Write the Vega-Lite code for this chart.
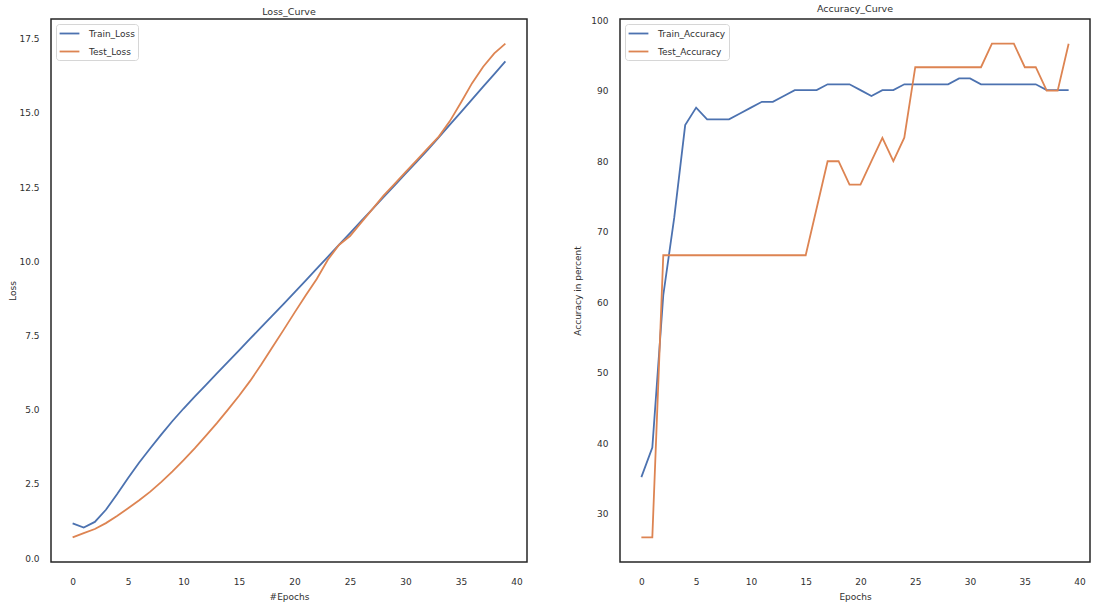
{
  "$schema": "https://vega.github.io/schema/vega-lite/v6.json",
  "padding": {"left": 8, "top": 2, "right": 5, "bottom": 5},
  "background": "white",
  "bounds": "flush",
  "spacing": 93,
  "datasets": {
    "loss": [
      {"epoch":0,"series":"Train_Loss","value":1.17},{"epoch":1,"series":"Train_Loss","value":1.03},{"epoch":2,"series":"Train_Loss","value":1.22},{"epoch":3,"series":"Train_Loss","value":1.63},{"epoch":4,"series":"Train_Loss","value":2.15},{"epoch":5,"series":"Train_Loss","value":2.7},{"epoch":6,"series":"Train_Loss","value":3.22},{"epoch":7,"series":"Train_Loss","value":3.7},{"epoch":8,"series":"Train_Loss","value":4.17},{"epoch":9,"series":"Train_Loss","value":4.62},{"epoch":10,"series":"Train_Loss","value":5.04},{"epoch":11,"series":"Train_Loss","value":5.44},{"epoch":12,"series":"Train_Loss","value":5.83},{"epoch":13,"series":"Train_Loss","value":6.22},{"epoch":14,"series":"Train_Loss","value":6.61},{"epoch":15,"series":"Train_Loss","value":7.0},{"epoch":16,"series":"Train_Loss","value":7.39},{"epoch":17,"series":"Train_Loss","value":7.78},{"epoch":18,"series":"Train_Loss","value":8.17},{"epoch":19,"series":"Train_Loss","value":8.56},{"epoch":20,"series":"Train_Loss","value":8.95},{"epoch":21,"series":"Train_Loss","value":9.35},{"epoch":22,"series":"Train_Loss","value":9.75},{"epoch":23,"series":"Train_Loss","value":10.15},{"epoch":24,"series":"Train_Loss","value":10.55},{"epoch":25,"series":"Train_Loss","value":10.95},{"epoch":26,"series":"Train_Loss","value":11.35},{"epoch":27,"series":"Train_Loss","value":11.75},{"epoch":28,"series":"Train_Loss","value":12.15},{"epoch":29,"series":"Train_Loss","value":12.55},{"epoch":30,"series":"Train_Loss","value":12.95},{"epoch":31,"series":"Train_Loss","value":13.35},{"epoch":32,"series":"Train_Loss","value":13.75},{"epoch":33,"series":"Train_Loss","value":14.17},{"epoch":34,"series":"Train_Loss","value":14.6},{"epoch":35,"series":"Train_Loss","value":15.02},{"epoch":36,"series":"Train_Loss","value":15.45},{"epoch":37,"series":"Train_Loss","value":15.88},{"epoch":38,"series":"Train_Loss","value":16.3},{"epoch":39,"series":"Train_Loss","value":16.73},
      {"epoch":0,"series":"Test_Loss","value":0.7},{"epoch":1,"series":"Test_Loss","value":0.84},{"epoch":2,"series":"Test_Loss","value":0.98},{"epoch":3,"series":"Test_Loss","value":1.18},{"epoch":4,"series":"Test_Loss","value":1.42},{"epoch":5,"series":"Test_Loss","value":1.68},{"epoch":6,"series":"Test_Loss","value":1.95},{"epoch":7,"series":"Test_Loss","value":2.24},{"epoch":8,"series":"Test_Loss","value":2.57},{"epoch":9,"series":"Test_Loss","value":2.92},{"epoch":10,"series":"Test_Loss","value":3.3},{"epoch":11,"series":"Test_Loss","value":3.7},{"epoch":12,"series":"Test_Loss","value":4.12},{"epoch":13,"series":"Test_Loss","value":4.55},{"epoch":14,"series":"Test_Loss","value":5.0},{"epoch":15,"series":"Test_Loss","value":5.47},{"epoch":16,"series":"Test_Loss","value":5.97},{"epoch":17,"series":"Test_Loss","value":6.52},{"epoch":18,"series":"Test_Loss","value":7.1},{"epoch":19,"series":"Test_Loss","value":7.68},{"epoch":20,"series":"Test_Loss","value":8.27},{"epoch":21,"series":"Test_Loss","value":8.85},{"epoch":22,"series":"Test_Loss","value":9.4},{"epoch":23,"series":"Test_Loss","value":10.05},{"epoch":24,"series":"Test_Loss","value":10.55},{"epoch":25,"series":"Test_Loss","value":10.85},{"epoch":26,"series":"Test_Loss","value":11.3},{"epoch":27,"series":"Test_Loss","value":11.75},{"epoch":28,"series":"Test_Loss","value":12.2},{"epoch":29,"series":"Test_Loss","value":12.6},{"epoch":30,"series":"Test_Loss","value":13.0},{"epoch":31,"series":"Test_Loss","value":13.4},{"epoch":32,"series":"Test_Loss","value":13.8},{"epoch":33,"series":"Test_Loss","value":14.2},{"epoch":34,"series":"Test_Loss","value":14.72},{"epoch":35,"series":"Test_Loss","value":15.35},{"epoch":36,"series":"Test_Loss","value":16.0},{"epoch":37,"series":"Test_Loss","value":16.55},{"epoch":38,"series":"Test_Loss","value":17.0},{"epoch":39,"series":"Test_Loss","value":17.33}
    ],
    "acc": [
      {"epoch":0,"series":"Train_Accuracy","value":35.2},{"epoch":1,"series":"Train_Accuracy","value":39.4},{"epoch":2,"series":"Train_Accuracy","value":61.0},{"epoch":3,"series":"Train_Accuracy","value":72.0},{"epoch":4,"series":"Train_Accuracy","value":85.12},{"epoch":5,"series":"Train_Accuracy","value":87.6},{"epoch":6,"series":"Train_Accuracy","value":85.95},{"epoch":7,"series":"Train_Accuracy","value":85.95},{"epoch":8,"series":"Train_Accuracy","value":85.95},{"epoch":9,"series":"Train_Accuracy","value":86.78},{"epoch":10,"series":"Train_Accuracy","value":87.6},{"epoch":11,"series":"Train_Accuracy","value":88.43},{"epoch":12,"series":"Train_Accuracy","value":88.43},{"epoch":13,"series":"Train_Accuracy","value":89.26},{"epoch":14,"series":"Train_Accuracy","value":90.08},{"epoch":15,"series":"Train_Accuracy","value":90.08},{"epoch":16,"series":"Train_Accuracy","value":90.08},{"epoch":17,"series":"Train_Accuracy","value":90.91},{"epoch":18,"series":"Train_Accuracy","value":90.91},{"epoch":19,"series":"Train_Accuracy","value":90.91},{"epoch":20,"series":"Train_Accuracy","value":90.08},{"epoch":21,"series":"Train_Accuracy","value":89.26},{"epoch":22,"series":"Train_Accuracy","value":90.08},{"epoch":23,"series":"Train_Accuracy","value":90.08},{"epoch":24,"series":"Train_Accuracy","value":90.91},{"epoch":25,"series":"Train_Accuracy","value":90.91},{"epoch":26,"series":"Train_Accuracy","value":90.91},{"epoch":27,"series":"Train_Accuracy","value":90.91},{"epoch":28,"series":"Train_Accuracy","value":90.91},{"epoch":29,"series":"Train_Accuracy","value":91.74},{"epoch":30,"series":"Train_Accuracy","value":91.74},{"epoch":31,"series":"Train_Accuracy","value":90.91},{"epoch":32,"series":"Train_Accuracy","value":90.91},{"epoch":33,"series":"Train_Accuracy","value":90.91},{"epoch":34,"series":"Train_Accuracy","value":90.91},{"epoch":35,"series":"Train_Accuracy","value":90.91},{"epoch":36,"series":"Train_Accuracy","value":90.91},{"epoch":37,"series":"Train_Accuracy","value":90.08},{"epoch":38,"series":"Train_Accuracy","value":90.08},{"epoch":39,"series":"Train_Accuracy","value":90.08},
      {"epoch":0,"series":"Test_Accuracy","value":26.67},{"epoch":1,"series":"Test_Accuracy","value":26.67},{"epoch":2,"series":"Test_Accuracy","value":66.67},{"epoch":3,"series":"Test_Accuracy","value":66.67},{"epoch":4,"series":"Test_Accuracy","value":66.67},{"epoch":5,"series":"Test_Accuracy","value":66.67},{"epoch":6,"series":"Test_Accuracy","value":66.67},{"epoch":7,"series":"Test_Accuracy","value":66.67},{"epoch":8,"series":"Test_Accuracy","value":66.67},{"epoch":9,"series":"Test_Accuracy","value":66.67},{"epoch":10,"series":"Test_Accuracy","value":66.67},{"epoch":11,"series":"Test_Accuracy","value":66.67},{"epoch":12,"series":"Test_Accuracy","value":66.67},{"epoch":13,"series":"Test_Accuracy","value":66.67},{"epoch":14,"series":"Test_Accuracy","value":66.67},{"epoch":15,"series":"Test_Accuracy","value":66.67},{"epoch":16,"series":"Test_Accuracy","value":73.33},{"epoch":17,"series":"Test_Accuracy","value":80.0},{"epoch":18,"series":"Test_Accuracy","value":80.0},{"epoch":19,"series":"Test_Accuracy","value":76.67},{"epoch":20,"series":"Test_Accuracy","value":76.67},{"epoch":21,"series":"Test_Accuracy","value":80.0},{"epoch":22,"series":"Test_Accuracy","value":83.33},{"epoch":23,"series":"Test_Accuracy","value":80.0},{"epoch":24,"series":"Test_Accuracy","value":83.33},{"epoch":25,"series":"Test_Accuracy","value":93.33},{"epoch":26,"series":"Test_Accuracy","value":93.33},{"epoch":27,"series":"Test_Accuracy","value":93.33},{"epoch":28,"series":"Test_Accuracy","value":93.33},{"epoch":29,"series":"Test_Accuracy","value":93.33},{"epoch":30,"series":"Test_Accuracy","value":93.33},{"epoch":31,"series":"Test_Accuracy","value":93.33},{"epoch":32,"series":"Test_Accuracy","value":96.67},{"epoch":33,"series":"Test_Accuracy","value":96.67},{"epoch":34,"series":"Test_Accuracy","value":96.67},{"epoch":35,"series":"Test_Accuracy","value":93.33},{"epoch":36,"series":"Test_Accuracy","value":93.33},{"epoch":37,"series":"Test_Accuracy","value":90.0},{"epoch":38,"series":"Test_Accuracy","value":90.0},{"epoch":39,"series":"Test_Accuracy","value":96.67}
    ]
  },
  "hconcat": [
    {
      "width": 476,
      "height": 543,
      "title": "Loss_Curve",
      "data": {"name": "loss"},
      "mark": {"type": "line", "strokeWidth": 1.8},
      "encoding": {
        "x": {"field": "epoch", "type": "quantitative", "title": "#Epochs",
              "scale": {"domain": [-1.95, 40.95], "nice": false, "zero": false},
              "axis": {"values": [0,5,10,15,20,25,30,35,40], "titlePadding": 6}},
        "y": {"field": "value", "type": "quantitative", "title": "Loss",
              "scale": {"domain": [-0.13, 18.16], "nice": false, "zero": false},
              "axis": {"values": [0,2.5,5,7.5,10,12.5,15,17.5], "format": ".1f", "titlePadding": 1}},
        "color": {"field": "series", "type": "nominal", "sort": null,
                  "scale": {"domain": ["Train_Loss","Test_Loss"], "range": ["#4c72b0","#dd8452"]},
                  "legend": {"title": null, "orient": "top-left"}}
      }
    },
    {
      "width": 470,
      "height": 543,
      "title": "Accuracy_Curve",
      "data": {"name": "acc"},
      "mark": {"type": "line", "strokeWidth": 1.8},
      "encoding": {
        "x": {"field": "epoch", "type": "quantitative", "title": "Epochs",
              "scale": {"domain": [-1.95, 40.95], "nice": false, "zero": false},
              "axis": {"values": [0,5,10,15,20,25,30,35,40], "titlePadding": 6}},
        "y": {"field": "value", "type": "quantitative", "title": "Accuracy in percent",
              "scale": {"domain": [23.17, 100.17], "nice": false, "zero": false},
              "axis": {"values": [30,40,50,60,70,80,90,100], "titlePadding": 8}},
        "color": {"field": "series", "type": "nominal", "sort": null,
                  "scale": {"domain": ["Train_Accuracy","Test_Accuracy"], "range": ["#4c72b0","#dd8452"]},
                  "legend": {"title": null, "orient": "top-left"}}
      }
    }
  ],
  "resolve": {"scale": {"color": "independent"}, "legend": {"color": "independent"}},
  "config": {
    "font": "DejaVu Sans",
    "view": {"stroke": "#262626", "strokeWidth": 1.5},
    "axis": {"domain": false, "ticks": false, "tickSize": 0, "grid": false,
             "labelFont": "DejaVu Sans", "labelFontSize": 9, "labelColor": "#303030", "labelPadding": 12,
             "titleFont": "DejaVu Sans", "titleFontSize": 9, "titleFontWeight": "normal", "titleColor": "#303030"},
    "axisX": {"labelPadding": 15},
    "title": {"font": "DejaVu Sans", "fontSize": 9.5, "fontWeight": "normal", "color": "#303030", "anchor": "middle", "offset": 3},
    "legend": {"offset": 5, "padding": 3, "strokeColor": "#d6d6d6", "cornerRadius": 3, "fillColor": "white",
               "symbolType": "M-1.8,0H1.8", "symbolStrokeWidth": 1.8, "symbolSize": 121, "symbolOffset": 4, "rowPadding": 6,
               "labelFont": "DejaVu Sans", "labelFontSize": 9, "labelColor": "#303030", "labelOffset": 13}
  }
}
